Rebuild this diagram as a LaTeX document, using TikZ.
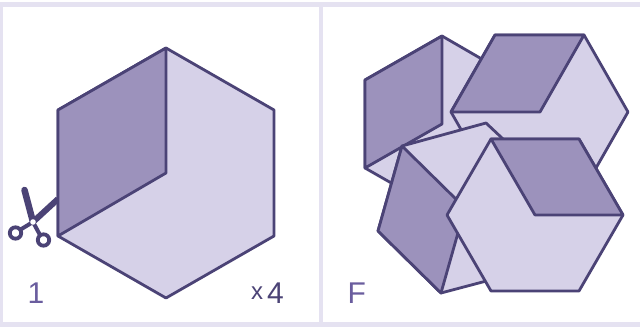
\documentclass[tikz,border=0pt]{standalone}
\usepackage{fontspec}
\setmainfont{Liberation Sans}
\definecolor{lt}{HTML}{D6D1E8}
\definecolor{dk}{HTML}{9C92BC}
\definecolor{ln}{HTML}{4B4376}
\definecolor{fr}{HTML}{E5E2F1}
\definecolor{tx}{HTML}{6A5D9E}
\tikzset{
  lightface/.style={fill=lt,draw=ln,line width=2.8pt,line join=round},
  darkface/.style={fill=dk,draw=ln,line width=2.8pt,line join=round},
  band/.style={fill=fr,draw=none},
  lab/.style={inner sep=0pt,font=\fontsize{30}{30}\selectfont}
}
\begin{document}
\begin{tikzpicture}[x=1pt,y=-1pt]
\useasboundingbox (0,0) rectangle (640,328);
% frame
\fill[white] (0,0) rectangle (640,328);
\fill[band] (0,2) rectangle (640,7);
\fill[band] (0,2) rectangle (3,327);
\fill[band] (0,322) rectangle (640,327);
\fill[band] (319,2) rectangle (323,327);
% scissors
\draw[ln,line width=6pt] (33,222) -- (58,199);
\draw[ln,line width=6.5pt,line cap=round] (33,222) -- (24.5,190);
\draw[ln,line width=4pt] (33,222) -- (19,230.5);
\draw[ln,line width=4pt] (33,222) -- (40,235);
\draw[ln,line width=3.8pt,fill=white] (15.5,233) circle (5.7);
\draw[ln,line width=3.8pt,fill=white] (43.5,240) circle (5.7);
\fill[white] (33,222) circle (2.8);
% left hexagon
\draw[lightface] (166,48) -- (274,110) -- (274,236) -- (166,298) -- (58,236) -- (58,110) -- cycle;
\draw[darkface] (58,110) -- (166,48) -- (166,173) -- (58,236) -- cycle;
% F: first hexagon
\draw[lightface] (442,36) -- (518,80) -- (518,168) -- (442,212) -- (365,168) -- (365,80) -- cycle;
\draw[darkface] (365,80) -- (442,36) -- (442,124) -- (365,168) -- cycle;
% F: second hexagon
\draw[lightface] (495,35) -- (584,35) -- (628,112) -- (584,189) -- (495,189) -- (451,112) -- cycle;
\draw[darkface] (495,35) -- (584,35) -- (540,112) -- (451,112) -- cycle;
% F: third hexagon
\draw[lightface] (402,146) -- (486,123) -- (552,185) -- (528,270) -- (441,293) -- (378,231) -- cycle;
\draw[darkface] (402,146) -- (378,231) -- (441,293) -- (465,208) -- cycle;
% F: front hexagon
\draw[lightface] (491,139) -- (579,139) -- (623,215) -- (579,291) -- (491,291) -- (447,215) -- cycle;
\draw[darkface] (491,139) -- (579,139) -- (623,215) -- (535,215) -- cycle;
% labels
\node[lab,text=tx,anchor=base] (one) at (36,304) {1};
\node[lab,text=tx,anchor=base west] (eff) at (347.5,304) {F};
\node[lab,text=ln,anchor=base east] (four) at (284,304) {4};
\node[inner sep=0pt,text=ln,anchor=base,font=\fontsize{24}{24}\selectfont] (times) at (257,300) {x};
\end{tikzpicture}
\end{document}
